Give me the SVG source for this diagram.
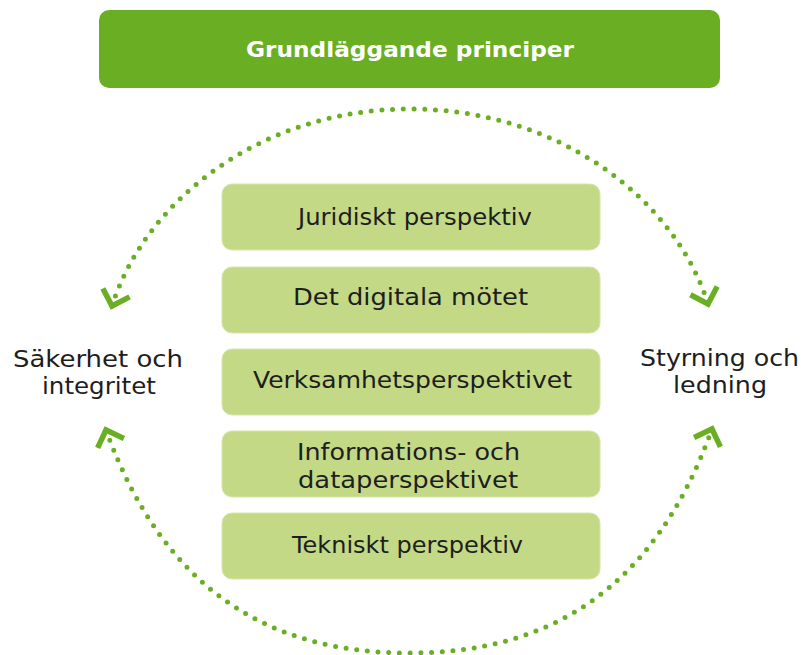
<svg xmlns="http://www.w3.org/2000/svg" width="801" height="655" viewBox="0 0 801 655">
  <style>
    .box { fill: #c3d986; stroke: #d6e6ab; stroke-width: 1; }
    .lbl { font-family: "DejaVu Sans", "Liberation Sans", sans-serif; font-size: 23px; fill: #1e1e1e; text-anchor: middle; }
    .title { font-family: "DejaVu Sans", "Liberation Sans", sans-serif; font-size: 22px; font-weight: bold; fill: #ffffff; text-anchor: middle; }
    .arc { fill: none; stroke: #6aaf23; stroke-width: 5; stroke-linecap: round; stroke-dasharray: 0 10.7; }
  </style>
  <defs>
    <marker id="chev" markerUnits="userSpaceOnUse" markerWidth="40" markerHeight="40" viewBox="-20 -20 40 40" refX="0" refY="0" orient="auto-start-reverse" overflow="visible">
      <path d="M-14,-14 L0,0 L-14,14" fill="none" stroke="#6aaf23" stroke-width="5.5" stroke-linecap="butt" stroke-linejoin="miter"/>
    </marker>
  </defs>

  <g id="connectors">
    <path class="arc" d="M112,306 C145,201.5 260,109 410,109 C561,109 676,201.5 708,304" marker-start="url(#chev)" marker-end="url(#chev)"/>
    <path class="arc" d="M106,430 C164,590 269,653 409,653 C549,653 654,590 712,429" marker-start="url(#chev)" marker-end="url(#chev)"/>
  </g>

  <g id="grundlaggande">
    <rect x="99" y="10" width="621" height="78" rx="10" fill="#6aaf23"/>
    <text class="title" x="410" y="57" textLength="328" lengthAdjust="spacingAndGlyphs">Grundläggande principer</text>
  </g>

  <g id="juridiskt">
    <rect class="box" x="222" y="184" width="378" height="66" rx="10"/>
    <text class="lbl" x="415" y="225" textLength="234" lengthAdjust="spacingAndGlyphs">Juridiskt perspektiv</text>
  </g>
  <g id="digitala">
    <rect class="box" x="222" y="267" width="378" height="66" rx="10"/>
    <text class="lbl" x="410.5" y="305" textLength="235" lengthAdjust="spacingAndGlyphs">Det digitala mötet</text>
  </g>
  <g id="verksamhet">
    <rect class="box" x="222" y="349" width="378" height="66" rx="10"/>
    <text class="lbl" x="412.5" y="388" textLength="319" lengthAdjust="spacingAndGlyphs">Verksamhetsperspektivet</text>
  </g>
  <g id="information">
    <rect class="box" x="222" y="431" width="378" height="66" rx="10"/>
    <text class="lbl" x="408.5" y="460" textLength="223" lengthAdjust="spacingAndGlyphs">Informations- och</text>
    <text class="lbl" x="408" y="488" textLength="220" lengthAdjust="spacingAndGlyphs">dataperspektivet</text>
  </g>
  <g id="tekniskt">
    <rect class="box" x="222" y="513" width="378" height="66" rx="10"/>
    <text class="lbl" x="407.5" y="553" textLength="231" lengthAdjust="spacingAndGlyphs">Tekniskt perspektiv</text>
  </g>

  <g id="sakerhet">
    <text class="lbl" x="98" y="367" textLength="170" lengthAdjust="spacingAndGlyphs">Säkerhet och</text>
    <text class="lbl" x="99" y="394" textLength="114" lengthAdjust="spacingAndGlyphs">integritet</text>
  </g>
  <g id="styrning">
    <text class="lbl" x="719.5" y="366" textLength="159" lengthAdjust="spacingAndGlyphs">Styrning och</text>
    <text class="lbl" x="720" y="393" textLength="94" lengthAdjust="spacingAndGlyphs">ledning</text>
  </g>
</svg>
